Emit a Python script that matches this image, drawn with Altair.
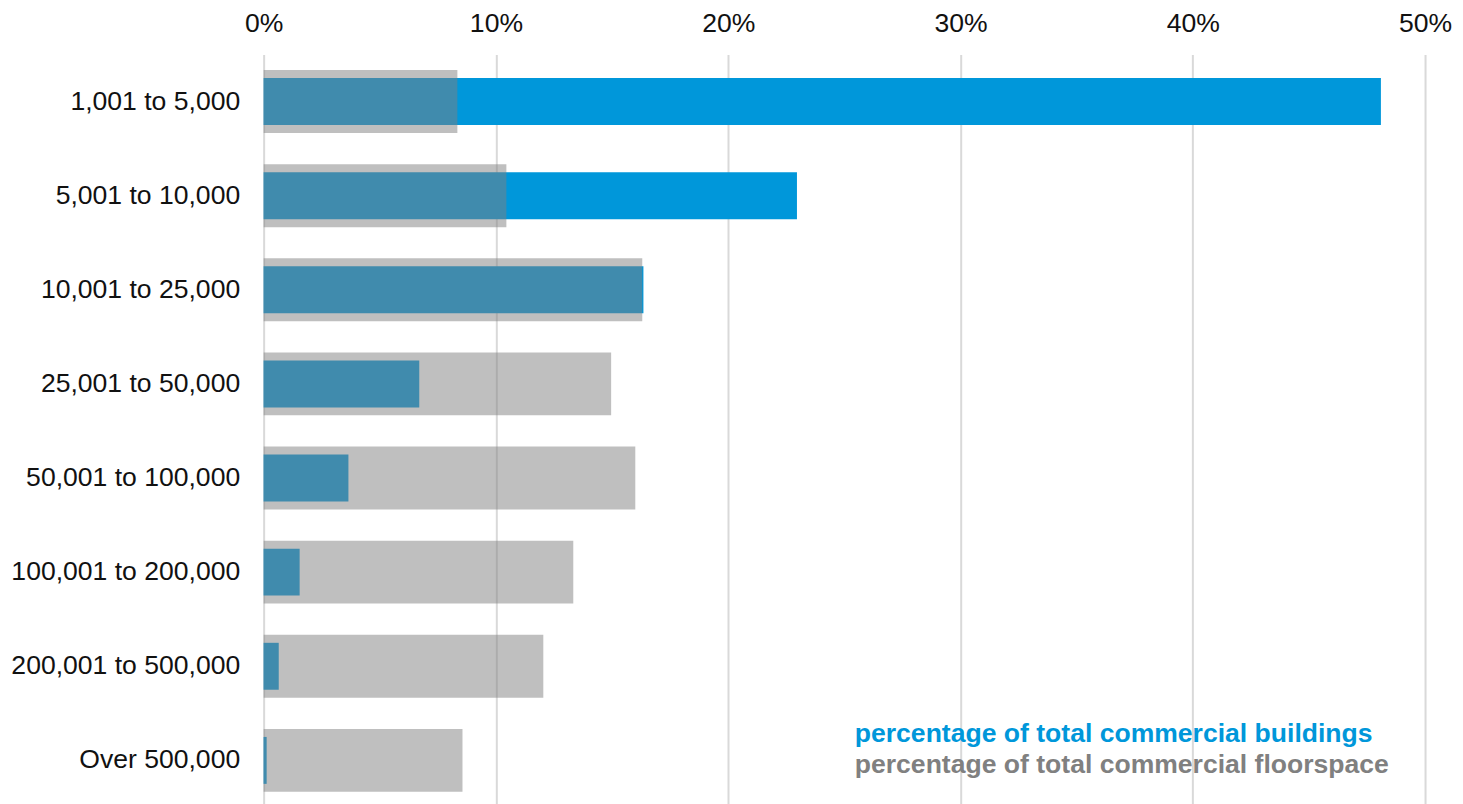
import altair as alt
import pandas as pd

categories = ["1,001 to 5,000", "5,001 to 10,000", "10,001 to 25,000", "25,001 to 50,000",
              "50,001 to 100,000", "100,001 to 200,000", "200,001 to 500,000", "Over 500,000"]
buildings = [48.1, 22.96, 16.35, 6.7, 3.65, 1.55, 0.65, 0.13]
floorspace = [8.34, 10.45, 16.3, 14.96, 16.0, 13.33, 12.04, 8.56]

legend_text = ["percentage of total commercial buildings", "percentage of total commercial floorspace"]
legend_color = ["#0097DA", "#808080"]
legend_x = [25.45, 25.45]
legend_y = [680, 712]

df = pd.DataFrame({"category": categories, "buildings": buildings, "floorspace": floorspace})
leg = pd.DataFrame({"text": legend_text, "color": legend_color, "x": legend_x, "y": legend_y})

FONT = "Liberation Sans"
FS = 26.6

x_scale = alt.Scale(domain=[0, 50], nice=False, zero=True)
y_scale = alt.Scale(paddingInner=0.332, paddingOuter=0.166)

x_axis = alt.Axis(orient="top", values=[0, 10, 20, 30, 40, 50], labelExpr="datum.value + '%'",
                  title=None, ticks=False, domain=False, grid=True, gridColor="#d9d9d9",
                  gridWidth=2, labelFontSize=FS, labelFont=FONT, labelColor="#111111",
                  labelPadding=17, labelFlush=False, labelLimit=0)
y_axis = alt.Axis(title=None, ticks=False, domain=False, grid=False, labelFontSize=FS,
                  labelFont=FONT, labelColor="#111111", labelPadding=24, labelLimit=0)

blue = alt.Chart(df).mark_bar(color="#0097DA", size=47).encode(
    x=alt.X("buildings:Q", scale=x_scale, axis=x_axis),
    y=alt.Y("category:N", sort=categories, scale=y_scale, axis=y_axis),
)
gray = alt.Chart(df).mark_bar(color="#7F7F7F", opacity=0.5, size=63).encode(
    x=alt.X("floorspace:Q", scale=x_scale),
    y=alt.Y("category:N", sort=categories, scale=y_scale),
)
text = alt.Chart(leg).mark_text(align="left", baseline="middle", font=FONT, fontSize=FS,
                                fontWeight="bold").encode(
    x=alt.X("x:Q", scale=x_scale),
    y=alt.Y("y:Q", scale=None),
    text="text:N",
    color=alt.Color("color:N", scale=None),
)

chart = alt.layer(blue, gray, text).properties(
    width=1163, height=754,
    autosize=alt.AutoSizeParams(type="none"),
    padding={"left": 256, "top": 46, "right": 30, "bottom": 0},
).configure_view(stroke=None)

chart.save("out.html", embed_options={"renderer": "svg", "actions": False})
